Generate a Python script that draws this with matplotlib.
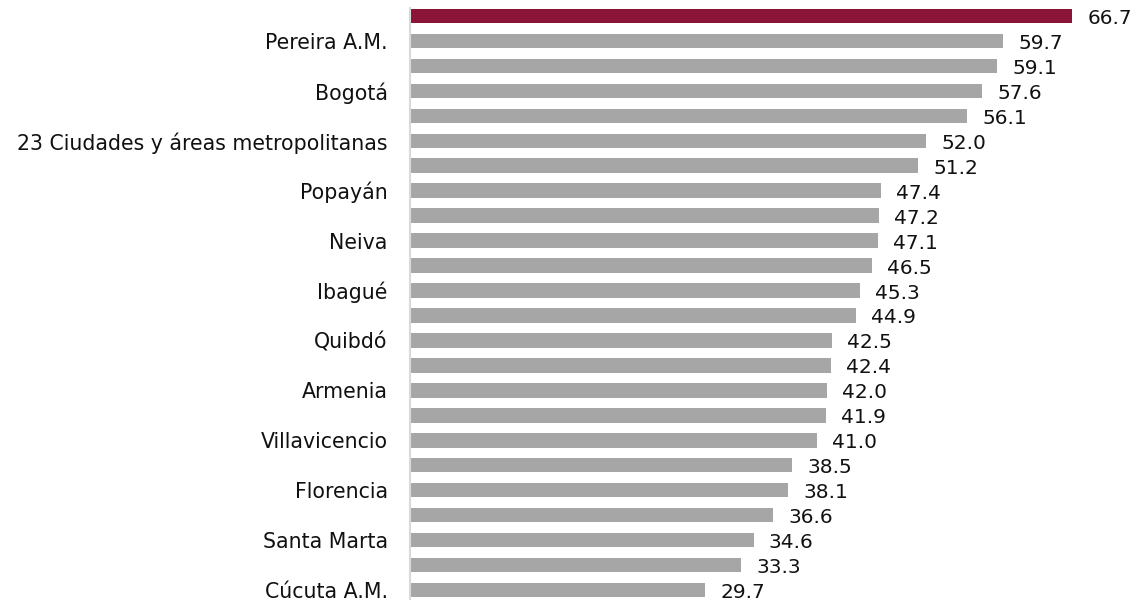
import matplotlib
matplotlib.use("Agg")
import matplotlib.pyplot as plt

# Ciudades ordenadas de arriba hacia abajo (solo una de cada dos lleva rótulo)
cities = ["", "Pereira A.M.", "", "Bogotá", "", "23 Ciudades y áreas metropolitanas",
          "", "Popayán", "", "Neiva", "", "Ibagué", "", "Quibdó", "", "Armenia",
          "", "Villavicencio", "", "Florencia", "", "Santa Marta", "", "Cúcuta A.M."]
values = [66.7, 59.7, 59.1, 57.6, 56.1, 52.0, 51.2, 47.4, 47.2, 47.1, 46.5, 45.3,
          44.9, 42.5, 42.4, 42.0, 41.9, 41.0, 38.5, 38.1, 36.6, 34.6, 33.3, 29.7]

plt.rcParams['font.family'] = ['DejaVu Sans']

red = '#8b1538'
gray = '#a6a6a6'
colors = [red] + [gray] * (len(values) - 1)

fig = plt.figure(figsize=(11.38, 6), dpi=100)
ax = fig.add_axes([410 / 1138, 0, 728 / 1138, 592 / 600])

n = len(values)
ypos = [n - 1 - i for i in range(n)]
ax.barh(ypos, values, height=0.58, color=colors)

for y, v in zip(ypos, values):
    ax.annotate(f'{v:.1f}', xy=(v, y), xytext=(11, -1.8), textcoords='offset points',
                ha='left', va='center', fontsize=14.5, color='#111111')

ax.set_xlim(0, 728 / 9.93)
ax.set_ylim(-0.4, 23.32)
ax.set_yticks(ypos)
ax.set_yticklabels(cities, fontsize=14.8, color='#111111')
ax.tick_params(axis='y', length=0, pad=16)
ax.set_xticks([])

for side in ['top', 'right', 'bottom']:
    ax.spines[side].set_visible(False)
ax.spines['left'].set_color('#d9d9d9')
ax.spines['left'].set_linewidth(1.5)

fig.savefig('out.png', dpi=100)
